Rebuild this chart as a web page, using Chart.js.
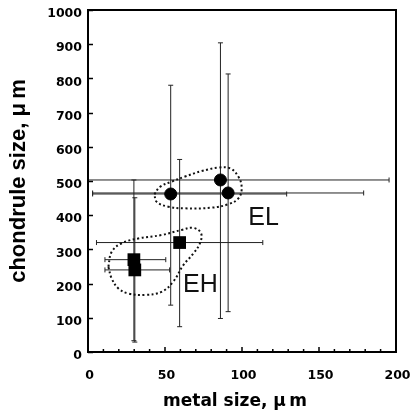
<!DOCTYPE html>
<html>
<head>
<meta charset="utf-8">
<script src="https://cdn.jsdelivr.net/npm/chart.js@4/dist/chart.umd.min.js"></script>
<style>
html,body{margin:0;padding:0;background:#fff;}
#wrap{width:411px;height:412px;position:relative;}
</style>
</head>
<body>
<div id="wrap"><canvas id="c" width="411" height="412"></canvas></div>
<script>
// ---- data ----
const xTickLabels = [0, 50, 100, 150, 200];
const yTickLabels = [0, 100, 200, 300, 400, 500, 600, 700, 800, 900, 1000];
const xTitle = 'metal size, μ\u2009m';
const yTitle = 'chondrule size, μ\u2009m';

// EH chondrites (squares)
const ehX     = [29.8, 30.4, 59.5];
const ehY     = [270, 240, 320];
const ehXLow  = [11, 11, 5.5];
const ehXHigh = [50.5, 53, 113.5];
const ehYLow  = [33, 29, 74];
const ehYHigh = [503, 451, 563];

// EL chondrites (circles)
const elX     = [53.7, 86, 91];
const elY     = [462, 503, 465];
const elXLow  = [3, -23, 3];
const elXHigh = [129, 195.5, 179];
const elYLow  = [137, 98, 118];
const elYHigh = [780, 904, 813];

// dotted group outlines
const elOutlineX = [43.1, 46.8, 54.3, 63, 73.8, 84.6, 92.2, 97.6, 99.8, 97.6, 91.1, 80.3, 63, 52.1, 44.6, 43.1];
const elOutlineY = [461, 483, 498, 513, 529, 539, 537, 513, 479, 449, 432, 422, 420, 425, 439, 461];
const ehOutlineX = [13.2, 15.4, 21.9, 32.7, 47.8, 60.8, 68.4, 73.4, 72.7, 68.4, 61.9, 55.4, 47.8, 37, 26.2, 19.7, 15.4, 13.2];
const ehOutlineY = [249, 293, 318, 332, 342, 357, 363, 347, 318, 288, 254, 206, 176, 167, 171, 186, 215, 249];

// group labels
const groupNames = ["EL", "EH"];
const groupLabelX = [114, 73];
const groupLabelY = [392, 196];

const toPts = (xs, ys) => xs.map((x, i) => ({x: x, y: ys[i]}));

const errorBarPlugin = {
  id: 'errbars',
  beforeDatasetsDraw(chart) {
    const {ctx, chartArea: a, scales: {x, y}} = chart;
    ctx.save();
    ctx.beginPath();
    ctx.rect(a.left, a.top, a.right - a.left, a.bottom - a.top);
    ctx.clip();
    ctx.strokeStyle = '#222';
    ctx.lineWidth = 1;
    const cap = 2.5;
    const groups = [
      [ehX, ehY, ehXLow, ehXHigh, ehYLow, ehYHigh],
      [elX, elY, elXLow, elXHigh, elYLow, elYHigh]
    ];
    groups.forEach(([xs, ys, xl, xh, yl, yh]) => {
      xs.forEach((xv, i) => {
        const px = x.getPixelForValue(xv), py = y.getPixelForValue(ys[i]);
        const x1 = x.getPixelForValue(xl[i]), x2 = x.getPixelForValue(xh[i]);
        const y1 = y.getPixelForValue(yl[i]), y2 = y.getPixelForValue(yh[i]);
        ctx.beginPath();
        ctx.moveTo(x1, py); ctx.lineTo(x2, py);
        ctx.moveTo(x1, py - cap); ctx.lineTo(x1, py + cap);
        ctx.moveTo(x2, py - cap); ctx.lineTo(x2, py + cap);
        ctx.moveTo(px, y1); ctx.lineTo(px, y2);
        ctx.moveTo(px - cap, y1); ctx.lineTo(px + cap, y1);
        ctx.moveTo(px - cap, y2); ctx.lineTo(px + cap, y2);
        ctx.stroke();
      });
    });
    ctx.restore();
  },
  afterDraw(chart) {
    const {ctx, chartArea: a, scales: {x, y}} = chart;
    ctx.save();
    ctx.strokeStyle = '#000';
    ctx.lineWidth = 2;
    ctx.strokeRect(a.left, a.top, a.right - a.left, a.bottom - a.top);
    ctx.lineWidth = 1.5;
    ctx.beginPath();
    for (let v = 0; v <= 1000; v += 100) {
      const p = Math.round(y.getPixelForValue(v)) + 0.5;
      ctx.moveTo(a.left, p); ctx.lineTo(a.left + 5, p);
    }
    for (let v = 10; v < 200; v += 10) {
      const p = x.getPixelForValue(v);
      const len = (v % 50 === 0) ? 5 : 3;
      ctx.moveTo(p, a.bottom); ctx.lineTo(p, a.bottom - len);
    }
    ctx.stroke();
    ctx.fillStyle = '#111';
    ctx.font = '25px "Liberation Sans", Arial, sans-serif';
    ctx.textAlign = 'center';
    ctx.textBaseline = 'middle';
    groupNames.forEach((t, i) => {
      ctx.fillText(t, x.getPixelForValue(groupLabelX[i]), y.getPixelForValue(groupLabelY[i]));
    });
    // x axis title (slightly left of centre, as in the original)
    ctx.fillStyle = '#000';
    ctx.font = 'bold 17px "DejaVu Sans", sans-serif';
    ctx.textBaseline = 'alphabetic';
    ctx.fillText(xTitle, (a.left + a.right) / 2 - 7, a.bottom + 54);
    ctx.restore();
  }
};

const tickFont = {family: '"DejaVu Sans", sans-serif', size: 12.5, weight: 'bold'};
const zeroPad = s => { s.paddingLeft = 0; s.paddingRight = 0; s.paddingTop = 0; s.paddingBottom = 0; };

new Chart(document.getElementById('c'), {
  type: 'scatter',
  data: {
    datasets: [
      {
        type: 'line', data: toPts(elOutlineX, elOutlineY), showLine: true, tension: 0.4,
        borderColor: '#111', borderWidth: 2, borderDash: [2, 2.5], pointRadius: 0, fill: false, order: 3
      },
      {
        type: 'line', data: toPts(ehOutlineX, ehOutlineY), showLine: true, tension: 0.4,
        borderColor: '#111', borderWidth: 2, borderDash: [2, 2.5], pointRadius: 0, fill: false, order: 3
      },
      {
        data: toPts(ehX, ehY), pointStyle: 'rect', pointRadius: 9, pointBackgroundColor: '#000',
        pointBorderColor: '#000', pointBorderWidth: 0, order: 1
      },
      {
        data: toPts(elX, elY), pointStyle: 'circle', pointRadius: 6, pointBackgroundColor: '#000',
        pointBorderColor: '#000', pointBorderWidth: 1, order: 1
      }
    ]
  },
  options: {
    responsive: false,
    animation: false,
    events: [],
    layout: {padding: {top: 10, right: 15, left: 0, bottom: 0}},
    plugins: {legend: {display: false}, tooltip: {enabled: false}},
    scales: {
      x: {
        type: 'linear', min: 0, max: 200,
        afterFit: s => { s.height = 60; zeroPad(s); },
        afterBuildTicks: s => { s.ticks = xTickLabels.map(v => ({value: v})); },
        grid: {display: false, drawTicks: false},
        border: {display: false},
        ticks: {font: tickFont, color: '#000', padding: 16, maxRotation: 0, labelOffset: 1.5,
          callback: v => String(v)},
        title: {display: false}
      },
      y: {
        type: 'linear', min: 0, max: 1000,
        afterFit: s => { s.width = 88; zeroPad(s); },
        afterBuildTicks: s => { s.ticks = yTickLabels.map(v => ({value: v})); },
        grid: {display: false, drawTicks: false},
        border: {display: false},
        ticks: {font: tickFont, color: '#000', padding: 6, labelOffset: 4, callback: v => String(v)},
        title: {display: true, text: yTitle, color: '#000',
          font: {family: '"Liberation Sans", Arial, sans-serif', size: 22, weight: 'bold'}, padding: {top: 6, bottom: 0}}
      }
    }
  },
  plugins: [errorBarPlugin]
});
</script>
</body>
</html>
